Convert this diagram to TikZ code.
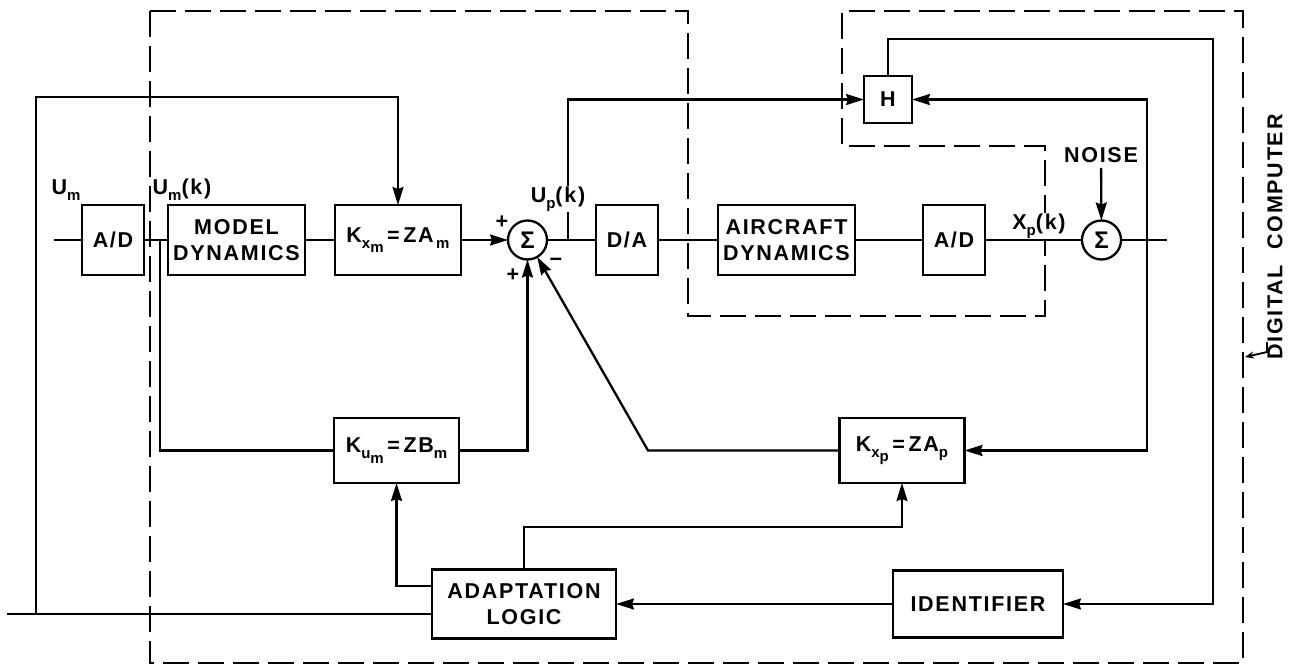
\documentclass[tikz,border=0pt]{standalone}
\usepackage{fontspec}
\setmainfont{Liberation Sans}[LetterSpace=8]
\usepackage{tikz}
\usetikzlibrary{arrows.meta,positioning}
\newcommand{\lbl}{\fontsize{21.5}{26}\selectfont\bfseries}
\newcommand{\sbx}[1]{\raisebox{-0.55ex}{\fontsize{15}{15}\selectfont #1}}
\tikzset{
  block/.style={rectangle, draw, line width=2.3pt, inner sep=0pt, outer sep=0pt,
                align=center, font=\lbl},
  smallbox/.style={block, minimum width=62pt, minimum height=70pt},
  widebox/.style={block, minimum width=137pt, minimum height=70pt},
  gainbox/.style={block, minimum width=125pt, minimum height=65pt},
  sumnode/.style={circle, draw, line width=2.3pt, minimum size=39pt, inner sep=0pt,
                  outer sep=0pt, font=\fontsize{24}{24}\selectfont\bfseries},
  wire/.style={line width=2.3pt},
  arrow/.style={wire, -{Stealth[length=18pt,width=11pt,inset=2pt]}},
  boundary/.style={line width=2.4pt, dash pattern=on 26pt off 9pt},
  label/.style={font=\lbl, inner sep=1pt},
}
\begin{document}
\begin{tikzpicture}[x=1pt, y=-1pt]
\useasboundingbox (0,0) rectangle (1293,667);

% digital computer boundary
\draw[boundary] (150,11) -- (688,11) -- (688,316) -- (1045,316) -- (1045,146)
  -- (842,146) -- (842,11) -- (1243,11) -- (1243,663) -- (150,663) -- cycle;

% forward path
\node[smallbox] (ad1) at (113,240) {A/D};
\node[widebox, right=24pt of ad1] (model) {MODEL\\DYNAMICS};
\node[block, minimum width=126pt, minimum height=70pt, right=30pt of model] (kxm)
  {K\sbx{x\sbx{m}}\,=\,ZA\sbx{\,m}};
\node[sumnode, right=47pt of kxm] (sum1) {Σ};
\node[smallbox, right=49pt of sum1] (da) {D/A};
\node[widebox, right=60pt of da] (air) {AIRCRAFT\\DYNAMICS};
\node[smallbox, right=68pt of air] (ad2) {A/D};
\node[sumnode, right=97pt of ad2] (sum2) {Σ};
\node[block, minimum width=48pt, minimum height=47pt] (h) at (888,99.5) {H};

% gains and adaptation
\node[gainbox] (kum) at (396.5,450.5) {K\sbx{u\sbx{m}}\,=\,ZB\sbx{m}};
\node[gainbox] (kxp) at (902,450.5) {K\sbx{x\sbx{p}}\,=\,ZA\sbx{p}};
\node[block, minimum width=184pt, minimum height=69pt] (adapt) at (524,604) {ADAPTATION\\LOGIC};
\node[block, minimum width=170pt, minimum height=67pt] (ident) at (978,604) {IDENTIFIER};

% labels
\node[label] (um) at (66,190) {U\sbx{m}};
\node[label] (umk) at (182,190) {U\sbx{m}(k)};
\node[label] (plus1) at (502,222) {+};
\node[label] (plus2) at (513,275) {+};
\node[label] (minus) at (556,262) {\char"2212};
\node[label, inner sep=5pt] (noise) at (1101,155) {NOISE};
\node[label, rotate=90] (dc) at (1275,237) {DIGITAL\ \ COMPUTER};

\coordinate (umin) at (54,240);
\coordinate (tapm) at (160,240);
\coordinate (tapu) at (568,240);
\coordinate (tapx) at (1147,240);
\coordinate (xout) at (1167,240);
\coordinate (uin) at (7,614);
\coordinate (lbot) at (36,614);
\coordinate (ltop) at (36,97);
\coordinate (hcorner) at (1213,39);
\coordinate (bend) at (648,450.5);
\coordinate (adk) at (524,527);
\coordinate (dcfoot) at (1267,342);

\draw[wire] (umin) -- (ad1);
\draw[wire] (ad1) -- (model);
\draw[wire] (model) -- (kxm);
\draw[arrow] (kxm) -- (sum1);
\draw[wire] (sum1) -- (da);
\draw[wire] (da) -- (air);
\draw[wire] (air) -- (ad2);
\draw[wire] (ad2) -- (sum2);
\draw[wire] (sum2) -- (xout);
\draw[arrow] (noise) -- (sum2);
\draw[arrow] (tapu) |- (h);
\draw[arrow] (lbot) -- (ltop) -| (kxm);
\draw[wire] (uin) -- ([yshift=-10pt]adapt.west);
\draw[wire] (tapm) |- (kum);
\draw[arrow] (kum) -| (sum1);
\draw[arrow] (kxp) -- (bend) -- (sum1);
\draw[arrow] (tapx) |- (h);
\draw[arrow] (tapx) |- (kxp);
\draw[arrow] (h) |- (hcorner) |- (ident);
\draw[arrow] (ident) -- (adapt);
\draw[arrow] ([yshift=18pt]adapt.west) -| (kum);
\draw[arrow] (adapt) -- (adk) -| (kxp);
\draw[wire, line width=1.8pt, -{Stealth[length=9pt,width=7pt]}]
  (dcfoot) -- ++(0,10) -- (1245,357);

% signal labels over the lines
\node[label, fill=white] (upk) at (558,199) {U\sbx{p}(k)};
\node[label, fill=white] (xpk) at (1039,226) {X\sbx{p}(k)};
\end{tikzpicture}
\end{document}
